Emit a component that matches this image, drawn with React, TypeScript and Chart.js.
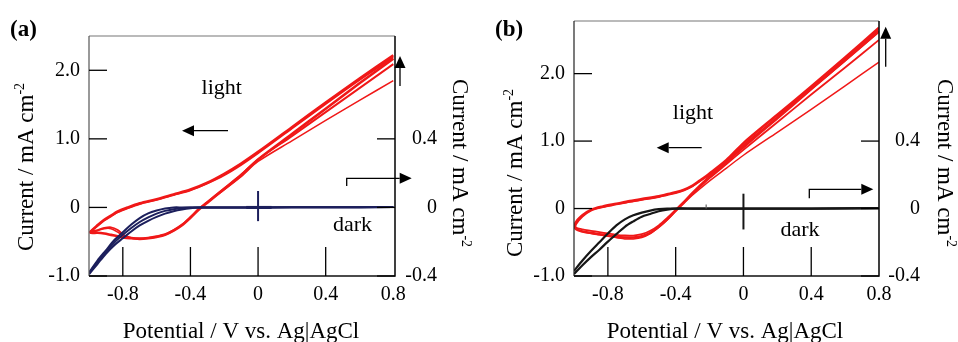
import React, { useEffect, useRef } from "react";
import { Chart, registerables } from "chart.js";

Chart.register(...registerables);

const FONT = "'Liberation Serif', 'Times New Roman', serif";

// ---- axis ticks ----
const xTicks = [-0.8, -0.4, 0, 0.4, 0.8];
const leftTicks = [-1, 0, 1, 2];
const rightTicks = [-0.4, 0, 0.4];
const RIGHT_PER_LEFT = 0.4; // right axis value = left axis value x 0.4

// ---- panel (a): light (left axis, mA cm-2) ----
const aUpX = [0.8, 0.6, 0.4, 0.2, 0.0, -0.1, -0.2, -0.3, -0.4, -0.5, -0.6, -0.7, -0.77, -0.83, -0.87, -0.91, -0.95, -0.99];
const aUp1 = [2.22, 1.88, 1.53, 1.17, 0.81, 0.64, 0.49, 0.36, 0.26, 0.19, 0.12, 0.06, 0.0, -0.06, -0.12, -0.18, -0.26, -0.35];
const aUp2 = [2.19, 1.86, 1.51, 1.15, 0.79, 0.62, 0.47, 0.35, 0.25, 0.18, 0.11, 0.05, -0.01, -0.07, -0.13, -0.19, -0.27, -0.35];
const aDownX = [-0.99, -0.95, -0.91, -0.87, -0.83, -0.79, -0.75, -0.7, -0.65, -0.6, -0.55, -0.5, -0.45, -0.4, -0.35, -0.3, -0.2, -0.1, 0, 0.2, 0.4, 0.6, 0.8];
const aDown1 = [-0.37, -0.37, -0.38, -0.4, -0.42, -0.44, -0.45, -0.46, -0.45, -0.43, -0.4, -0.34, -0.26, -0.15, -0.03, 0.07, 0.27, 0.47, 0.7, 1.07, 1.44, 1.81, 2.17];
const aDown2 = [-0.36, -0.33, -0.3, -0.29, -0.33, -0.41, -0.44, -0.45, -0.44, -0.42, -0.39, -0.33, -0.25, -0.14, -0.02, 0.08, 0.28, 0.48, 0.7, 1.04, 1.39, 1.74, 2.09];
const aDown3 = [-0.36, -0.34, -0.31, -0.31, -0.36, -0.43, -0.45, -0.46, -0.45, -0.43, -0.4, -0.34, -0.26, -0.15, -0.03, 0.07, 0.26, 0.45, 0.67, 0.97, 1.27, 1.56, 1.85];

// ---- panel (a): dark (right axis, mA cm-2) ----
const aDarkX = [-1.0, -0.95, -0.9, -0.85, -0.8, -0.75, -0.7, -0.65, -0.6, -0.55, -0.5, -0.45, -0.4, -0.35, -0.3, -0.2, 0.0, 0.4, 0.8];
const aDarkOuter = [-0.39, -0.33, -0.27, -0.22, -0.18, -0.14, -0.105, -0.078, -0.055, -0.036, -0.022, -0.012, -0.005, -0.001, 0, 0, 0, 0.001, 0.002];
const aDarkMid = [-0.385, -0.32, -0.26, -0.205, -0.16, -0.12, -0.085, -0.058, -0.036, -0.02, -0.01, -0.003, 0, 0, 0, 0, 0, 0.001, 0.002];
const aDarkInner = [-0.38, -0.31, -0.25, -0.19, -0.145, -0.1, -0.062, -0.035, -0.018, -0.006, 0, 0, 0, 0, 0, 0, 0, 0.001, 0.002];

// ---- panel (b): light ----
const bUpX = [0.8, 0.6, 0.4, 0.2, 0.0, -0.1, -0.2, -0.26, -0.3, -0.35, -0.4, -0.45, -0.5, -0.6, -0.67, -0.75, -0.83, -0.9, -0.95, -0.99];
const bUp1 = [2.68, 2.24, 1.81, 1.39, 0.97, 0.72, 0.52, 0.41, 0.34, 0.28, 0.24, 0.21, 0.18, 0.14, 0.11, 0.07, 0.03, -0.02, -0.1, -0.21];
const bUp2 = [2.62, 2.19, 1.77, 1.35, 0.94, 0.7, 0.5, 0.4, 0.33, 0.27, 0.23, 0.2, 0.17, 0.13, 0.1, 0.06, 0.02, -0.03, -0.12, -0.24];
const bDownX = [-0.99, -0.95, -0.9, -0.85, -0.8, -0.75, -0.7, -0.65, -0.6, -0.55, -0.5, -0.45, -0.4, -0.35, -0.3, -0.2, -0.1, 0.0, 0.2, 0.4, 0.6, 0.8];
const bDown1 = [-0.3, -0.34, -0.36, -0.38, -0.4, -0.42, -0.43, -0.43, -0.41, -0.36, -0.27, -0.16, -0.03, 0.1, 0.23, 0.47, 0.69, 0.91, 1.34, 1.77, 2.2, 2.63];
const bDown2 = [-0.28, -0.31, -0.33, -0.35, -0.37, -0.39, -0.4, -0.4, -0.38, -0.33, -0.25, -0.14, -0.02, 0.1, 0.22, 0.45, 0.66, 0.87, 1.28, 1.69, 2.09, 2.5];
const bDown3 = [-0.3, -0.34, -0.37, -0.39, -0.41, -0.43, -0.45, -0.45, -0.43, -0.37, -0.28, -0.17, -0.04, 0.08, 0.2, 0.41, 0.6, 0.79, 1.13, 1.47, 1.82, 2.17];

// ---- panel (b): dark (right axis) ----
const bDarkX = [-1.0, -0.95, -0.9, -0.85, -0.8, -0.75, -0.7, -0.65, -0.6, -0.55, -0.5, -0.45, -0.4, -0.3, -0.2, 0.0, 0.4, 0.8];
const bDarkA = [-0.37, -0.308, -0.252, -0.2, -0.148, -0.1, -0.064, -0.04, -0.024, -0.012, -0.004, 0, 0, 0, 0, 0, 0, 0.002];
const bDarkB = [-0.388, -0.336, -0.288, -0.244, -0.196, -0.152, -0.108, -0.076, -0.048, -0.032, -0.016, -0.006, 0, 0, 0, 0, 0, 0.002];

type Pt = { x: number; y: number };
const zip = (xs: number[], ys: number[]): Pt[] => xs.map((x, i) => ({ x, y: ys[i] }));

const RED = "#f01818";
const W = 479;
const H = 342;

type XY = [number, number];
interface Spec {
  tag: string;
  xMax: number;
  yMax: number;
  padTop: number;
  leftW: number;
  rightBoxW: number;
  padRight: number;
  rightPad: number;
  light: { pts: Pt[]; w: number }[];
  dark: Pt[][];
  darkColor: string;
  darkW: number;
  frameLeft: string;
  crossV: [number, number];
  crossH: [number, number] | null;
  smallMark: [number, number, number] | null;
  lightText: XY;
  darkText: XY;
  leftArrow: XY[];
  upArrow: XY[];
  rightArrow: XY[];
  tagPos: XY;
  xTitle: XY;
  leftTitle: XY;
  rightTitle: XY;
}

const specA: Spec = {
  tag: "(a)",
  xMax: 0.81,
  yMax: 2.5,
  padTop: 36,
  leftW: 89,
  rightBoxW: 42,
  padRight: 42,
  rightPad: 10,
  light: [
    { pts: zip(aUpX, aUp1).concat(zip(aDownX, aDown1)), w: 2.6 },
    { pts: zip(aUpX, aUp2).concat(zip(aDownX, aDown2)), w: 1.9 },
    { pts: zip(aDownX, aDown3), w: 1.5 },
  ],
  dark: [zip(aDarkX, aDarkOuter), zip(aDarkX, aDarkMid), zip(aDarkX, aDarkInner)],
  darkColor: "#1c1f5c",
  darkW: 2,
  frameLeft: "#555",
  crossV: [0.24, -0.2],
  crossH: [-0.07, 0.08],
  smallMark: null,
  lightText: [221.7, 94.3],
  darkText: [352.5, 231],
  leftArrow: [[228, 130.7], [182, 130.7]],
  upArrow: [[400, 86], [400, 56]],
  rightArrow: [[346.7, 186], [346.7, 178.3], [411.7, 178.3]],
  tagPos: [10, 36],
  xTitle: [241, 338],
  leftTitle: [33, 167],
  rightTitle: [453, 163],
};

const specB: Spec = {
  tag: "(b)",
  xMax: 0.8,
  yMax: 2.78,
  padTop: 17,
  leftW: 95,
  rightBoxW: 41,
  padRight: 38,
  rightPad: 9,
  light: [
    { pts: zip(bUpX, bUp1).concat(zip(bDownX, bDown1)), w: 2.6 },
    { pts: zip(bUpX, bUp2).concat(zip(bDownX, bDown2)), w: 1.8 },
    { pts: zip(bDownX, bDown3), w: 1.5 },
  ],
  dark: [zip(bDarkX, bDarkA), zip(bDarkX, bDarkB)],
  darkColor: "#161616",
  darkW: 2.2,
  frameLeft: "#222",
  crossV: [0.22, -0.31],
  crossH: null,
  smallMark: [-0.22, 0.0, 0.06],
  lightText: [214, 119.3],
  darkText: [321, 236],
  leftArrow: [[222.7, 147.7], [177.7, 147.7]],
  upArrow: [[406.7, 66.7], [406.7, 26.7]],
  rightArrow: [[330.3, 198.3], [330.3, 189.3], [394.3, 189.3]],
  tagPos: [16, 36],
  xTitle: [246, 338],
  leftTitle: [42.7, 173],
  rightTitle: [458.5, 163],
};

const fmt = (v: number) => (v === 0 ? "0" : v.toFixed(1));

function drawArrow(ctx: CanvasRenderingContext2D, pts: XY[]) {
  const head = 12;
  const half = 5.5;
  const n = pts.length;
  const [tx, ty] = pts[n - 1];
  const [px, py] = pts[n - 2];
  const len = Math.hypot(tx - px, ty - py);
  const ux = (tx - px) / len;
  const uy = (ty - py) / len;
  const bx = tx - ux * head;
  const by = ty - uy * head;
  ctx.save();
  ctx.strokeStyle = "#000";
  ctx.fillStyle = "#000";
  ctx.lineWidth = 1.3;
  ctx.beginPath();
  ctx.moveTo(pts[0][0], pts[0][1]);
  for (let i = 1; i < n - 1; i++) ctx.lineTo(pts[i][0], pts[i][1]);
  ctx.lineTo(bx, by);
  ctx.stroke();
  ctx.beginPath();
  ctx.moveTo(tx, ty);
  ctx.lineTo(bx - uy * half, by + ux * half);
  ctx.lineTo(bx + uy * half, by - ux * half);
  ctx.closePath();
  ctx.fill();
  ctx.restore();
}

function drawTitle(ctx: CanvasRenderingContext2D, cx: number, cy: number, angle: number, main: string, sup: string) {
  ctx.save();
  ctx.translate(cx, cy);
  ctx.rotate(angle);
  ctx.fillStyle = "#000";
  ctx.textBaseline = "alphabetic";
  ctx.textAlign = "left";
  ctx.font = `23px ${FONT}`;
  const w1 = ctx.measureText(main).width;
  ctx.font = `14px ${FONT}`;
  const w2 = ctx.measureText(sup).width;
  const start = -(w1 + w2) / 2;
  ctx.font = `23px ${FONT}`;
  ctx.fillText(main, start, 0);
  ctx.font = `14px ${FONT}`;
  ctx.fillText(sup, start + w1, -9);
  ctx.restore();
}

function makeDeco(spec: Spec) {
  return {
    id: "deco",
    afterDraw(chart: any) {
      const ctx: CanvasRenderingContext2D = chart.ctx;
      const ca = chart.chartArea;
      const sx = chart.scales.x;
      const sy = chart.scales.y;
      const sy2 = chart.scales.y2;
      ctx.save();
      ctx.lineCap = "butt";
      // frame
      ctx.lineWidth = 1.2;
      ctx.strokeStyle = "#777";
      ctx.beginPath();
      ctx.moveTo(ca.left, ca.top);
      ctx.lineTo(ca.right, ca.top);
      ctx.stroke();
      ctx.strokeStyle = spec.frameLeft;
      ctx.beginPath();
      ctx.moveTo(ca.left, ca.top);
      ctx.lineTo(ca.left, ca.bottom);
      ctx.stroke();
      ctx.lineWidth = 1.6;
      ctx.strokeStyle = "#111";
      ctx.beginPath();
      ctx.moveTo(ca.right, ca.top);
      ctx.lineTo(ca.right, ca.bottom);
      ctx.lineTo(ca.left, ca.bottom);
      ctx.stroke();
      // inward ticks
      ctx.lineWidth = 1.3;
      ctx.strokeStyle = "#000";
      leftTicks.forEach((v) => {
        const p = sy.getPixelForValue(v);
        ctx.beginPath();
        ctx.moveTo(ca.left, p);
        ctx.lineTo(ca.left + 18, p);
        ctx.stroke();
      });
      xTicks.forEach((v) => {
        const p = sx.getPixelForValue(v);
        if (Math.abs(p - ca.right) < 3) return;
        ctx.beginPath();
        ctx.moveTo(p, ca.bottom);
        ctx.lineTo(p, ca.bottom - 29);
        ctx.stroke();
      });
      rightTicks.forEach((v) => {
        const p = sy2.getPixelForValue(v);
        ctx.beginPath();
        ctx.moveTo(ca.right - 18, p);
        ctx.lineTo(ca.right, p);
        ctx.stroke();
      });
      // cross at origin
      ctx.strokeStyle = spec.darkColor;
      ctx.lineWidth = 2;
      const x0 = sx.getPixelForValue(0);
      ctx.beginPath();
      ctx.moveTo(x0, sy.getPixelForValue(spec.crossV[0]));
      ctx.lineTo(x0, sy.getPixelForValue(spec.crossV[1]));
      ctx.stroke();
      if (spec.crossH) {
        ctx.lineWidth = 3;
        const y0 = sy.getPixelForValue(0);
        ctx.beginPath();
        ctx.moveTo(sx.getPixelForValue(spec.crossH[0]), y0);
        ctx.lineTo(sx.getPixelForValue(spec.crossH[1]), y0);
        ctx.stroke();
      }
      if (spec.smallMark) {
        ctx.lineWidth = 1.2;
        ctx.strokeStyle = "#666";
        const mx = sx.getPixelForValue(spec.smallMark[0]);
        ctx.beginPath();
        ctx.moveTo(mx, sy.getPixelForValue(spec.smallMark[1]));
        ctx.lineTo(mx, sy.getPixelForValue(spec.smallMark[2]));
        ctx.stroke();
      }
      ctx.restore();

      // texts
      ctx.save();
      ctx.fillStyle = "#000";
      ctx.textBaseline = "alphabetic";
      ctx.textAlign = "center";
      ctx.font = `22px ${FONT}`;
      ctx.fillText("light", spec.lightText[0], spec.lightText[1]);
      ctx.fillText("dark", spec.darkText[0], spec.darkText[1]);
      ctx.font = `23px ${FONT}`;
      ctx.fillText("Potential / V vs. Ag|AgCl", spec.xTitle[0], spec.xTitle[1]);
      ctx.textAlign = "left";
      ctx.font = `bold 23px ${FONT}`;
      ctx.fillText(spec.tag, spec.tagPos[0], spec.tagPos[1]);
      ctx.restore();

      drawTitle(ctx, spec.leftTitle[0], spec.leftTitle[1], -Math.PI / 2, "Current / mA cm", "-2");
      drawTitle(ctx, spec.rightTitle[0], spec.rightTitle[1], Math.PI / 2, "Current / mA cm", "-2");

      drawArrow(ctx, spec.leftArrow);
      drawArrow(ctx, spec.upArrow);
      drawArrow(ctx, spec.rightArrow);
    },
  };
}

function Panel({ spec, left }: { spec: Spec; left: number }) {
  const ref = useRef<HTMLCanvasElement | null>(null);
  useEffect(() => {
    if (!ref.current) return;
    const tickFont = { family: FONT, size: 20 };
    const datasets: any[] = [];
    spec.dark.forEach((pts) =>
      datasets.push({
        data: pts,
        yAxisID: "y2",
        borderColor: spec.darkColor,
        borderWidth: spec.darkW,
        showLine: true,
        pointRadius: 0,
        tension: 0.3,
        fill: false,
        order: 0,
      })
    );
    spec.light.forEach((l) =>
      datasets.push({
        data: l.pts,
        yAxisID: "y",
        borderColor: RED,
        borderWidth: l.w,
        showLine: true,
        pointRadius: 0,
        tension: 0.3,
        fill: false,
        order: 1,
      })
    );
    const chart = new Chart(ref.current, {
      type: "scatter",
      data: { datasets },
      options: {
        responsive: false,
        animation: false,
        devicePixelRatio: 1,
        events: [],
        layout: { padding: { top: spec.padTop, left: 0, right: spec.padRight, bottom: 0 } },
        plugins: { legend: { display: false }, tooltip: { enabled: false } },
        scales: {
          x: {
            type: "linear",
            position: "bottom",
            min: -1,
            max: spec.xMax,
            grid: { display: false, drawTicks: false },
            border: { display: false },
            ticks: { font: tickFont, color: "#000", padding: 7, maxRotation: 0, autoSkip: false, callback: (v: any) => fmt(Number(v)) },
            afterBuildTicks: (s: any) => {
              s.ticks = xTicks.map((v) => ({ value: v }));
            },
            afterFit: (s: any) => {
              s.height = 66;
            },
          },
          y: {
            type: "linear",
            position: "left",
            min: -1,
            max: spec.yMax,
            grid: { display: false, drawTicks: false },
            border: { display: false },
            ticks: { font: tickFont, color: "#000", padding: 9, callback: (v: any) => fmt(Number(v)) },
            afterBuildTicks: (s: any) => {
              s.ticks = leftTicks.map((v) => ({ value: v }));
            },
            afterFit: (s: any) => {
              s.width = spec.leftW;
            },
          },
          y2: {
            type: "linear",
            position: "right",
            min: -1 * RIGHT_PER_LEFT,
            max: spec.yMax * RIGHT_PER_LEFT,
            grid: { display: false, drawTicks: false },
            border: { display: false },
            ticks: { font: tickFont, color: "#000", padding: spec.rightPad, crossAlign: "far", callback: (v: any) => fmt(Number(v)) },
            afterBuildTicks: (s: any) => {
              s.ticks = rightTicks.map((v) => ({ value: v }));
            },
            afterFit: (s: any) => {
              s.width = spec.rightBoxW;
            },
          },
        },
      },
      plugins: [makeDeco(spec)],
    } as any);
    return () => chart.destroy();
  }, [spec]);
  return (
    <canvas
      ref={ref}
      width={W}
      height={H}
      style={{ position: "absolute", left, top: 0, width: W, height: H }}
    />
  );
}

export default function App() {
  return (
    <div style={{ position: "absolute", left: 0, top: 0, width: 958, height: 342, background: "#fff", overflow: "hidden" }}>
      <Panel spec={specA} left={0} />
      <Panel spec={specB} left={479} />
    </div>
  );
}
